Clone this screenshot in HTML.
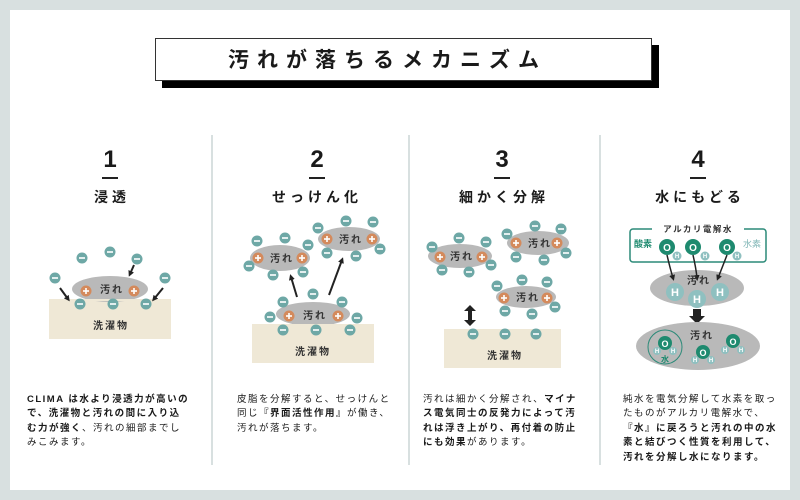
<!DOCTYPE html>
<html><head><meta charset="utf-8"><style>
body{margin:0;width:800px;height:500px;background:#d8e0e0;position:relative;overflow:hidden;font-family:"Liberation Sans","Noto Sans CJK JP",sans-serif;color:#1a1a1a}
.panel{position:absolute;left:10px;top:10px;width:780px;height:480px;background:#fff}
.t{position:absolute;white-space:nowrap}
.num{font-size:24px;font-weight:bold;transform:translateX(-50%);top:146px}
.ul{position:absolute;height:2px;width:16px;background:#222;top:177px}
.h{font-size:14px;font-weight:bold;letter-spacing:4px;transform:translateX(-50%);top:187px}
.txt{font-size:9.5px;line-height:14.4px;letter-spacing:1.5px;top:393px}
.txt b{font-weight:bold}
.div{position:absolute;width:2px;background:#d8e0e0;top:135px;height:330px}
</style></head><body>
<div class="panel"></div>
<div style="position:absolute;left:162px;top:45px;width:497px;height:43px;background:#000"></div>
<div style="position:absolute;left:155px;top:38px;width:495px;height:41px;background:#fff;border:1px solid #333"></div>
<div class="t" style="left:228px;top:44px;font-size:21px;font-weight:bold;letter-spacing:8px">汚れが落ちるメカニズム</div>

<div class="div" style="left:211px"></div>
<div class="div" style="left:408px"></div>
<div class="div" style="left:599px"></div>

<div class="t num" style="left:110px">1</div><div class="ul" style="left:102px"></div><div class="t h" style="left:112px">浸透</div>
<div class="t num" style="left:317px">2</div><div class="ul" style="left:309px"></div><div class="t h" style="left:317px">せっけん化</div>
<div class="t num" style="left:502px">3</div><div class="ul" style="left:494px"></div><div class="t h" style="left:504px">細かく分解</div>
<div class="t num" style="left:698px">4</div><div class="ul" style="left:690px"></div><div class="t h" style="left:700px">水にもどる</div>

<svg width="800" height="500" style="position:absolute;left:0;top:0" font-family="Liberation Sans,Noto Sans CJK JP,sans-serif">
<defs>
<g id="m"><circle r="5.5" fill="#6ea8a6"/><rect x="-3" y="-0.8" width="6" height="1.6" fill="#fff"/></g>
<g id="p"><circle r="5.5" fill="#d48a5c"/><rect x="-3" y="-0.8" width="6" height="1.6" fill="#fff"/><rect x="-0.8" y="-3" width="1.6" height="6" fill="#fff"/></g>
<marker id="a" markerWidth="6" markerHeight="6" refX="3" refY="3" orient="auto" markerUnits="userSpaceOnUse"><path d="M0,0L6,3L0,6z" fill="#222"/></marker>
</defs>
<g font-size="10" font-weight="bold" fill="#333" text-anchor="middle" letter-spacing="2">
<rect x="49" y="299" width="122" height="40" fill="#efe8d6"/>
<text x="111" y="329">洗濯物</text>
<ellipse cx="110" cy="289" rx="38" ry="13" fill="#b9b9b9"/>
<rect x="49" y="299" width="122" height="2" fill="#efe8d6"/>
<text x="112" y="293">汚れ</text>
<use href="#p" x="86" y="291"/><use href="#p" x="134" y="291"/>
<use href="#m" x="82" y="258"/><use href="#m" x="110" y="252"/><use href="#m" x="137" y="259"/><use href="#m" x="55" y="278"/><use href="#m" x="165" y="278"/><use href="#m" x="80" y="304"/><use href="#m" x="113" y="304"/><use href="#m" x="146" y="304"/>
<g stroke="#222" stroke-width="2" marker-end="url(#a)"><line x1="60" y1="288" x2="68" y2="299"/><line x1="134" y1="265" x2="130" y2="274"/><line x1="163" y1="288" x2="154" y2="299"/></g>
<rect x="252" y="324" width="122" height="39" fill="#efe8d6"/>
<text x="313" y="355">洗濯物</text>
<ellipse cx="313" cy="314" rx="37" ry="12" fill="#b9b9b9"/>
<rect x="252" y="324" width="122" height="2" fill="#efe8d6"/>
<text x="315" y="319">汚れ</text>
<use href="#p" x="289" y="316"/><use href="#p" x="338" y="316"/>
<use href="#m" x="270" y="317"/><use href="#m" x="283" y="302"/><use href="#m" x="313" y="294"/><use href="#m" x="342" y="302"/><use href="#m" x="357" y="318"/><use href="#m" x="283" y="330"/><use href="#m" x="316" y="330"/><use href="#m" x="350" y="330"/>
<ellipse cx="280" cy="258" rx="30" ry="13" fill="#b9b9b9"/>
<text x="282" y="262">汚れ</text><use href="#p" x="258" y="258"/><use href="#p" x="302" y="258"/>
<use href="#m" x="257" y="241"/><use href="#m" x="285" y="238"/><use href="#m" x="308" y="245"/><use href="#m" x="249" y="266"/><use href="#m" x="273" y="275"/><use href="#m" x="303" y="272"/>
<ellipse cx="349" cy="239" rx="31" ry="12" fill="#b9b9b9"/>
<text x="351" y="243">汚れ</text><use href="#p" x="327" y="239"/><use href="#p" x="372" y="239"/>
<use href="#m" x="318" y="228"/><use href="#m" x="346" y="221"/><use href="#m" x="373" y="222"/><use href="#m" x="327" y="253"/><use href="#m" x="356" y="256"/><use href="#m" x="380" y="249"/>
<g stroke="#222" stroke-width="2" marker-end="url(#a)"><line x1="297" y1="297" x2="291" y2="277"/><line x1="329" y1="295" x2="342" y2="260"/></g>
<rect x="444" y="329" width="117" height="39" fill="#efe8d6"/>
<text x="505" y="359">洗濯物</text>
<use href="#m" x="473" y="334"/><use href="#m" x="505" y="334"/><use href="#m" x="536" y="334"/>
<ellipse cx="460" cy="256" rx="32" ry="12" fill="#b9b9b9"/>
<text x="462" y="260">汚れ</text><use href="#p" x="440" y="257"/><use href="#p" x="482" y="257"/>
<use href="#m" x="432" y="247"/><use href="#m" x="459" y="238"/><use href="#m" x="486" y="242"/><use href="#m" x="442" y="270"/><use href="#m" x="469" y="272"/><use href="#m" x="491" y="265"/>
<ellipse cx="538" cy="243" rx="31" ry="12" fill="#b9b9b9"/>
<text x="540" y="247">汚れ</text><use href="#p" x="516" y="243"/><use href="#p" x="557" y="243"/>
<use href="#m" x="507" y="234"/><use href="#m" x="535" y="226"/><use href="#m" x="561" y="229"/><use href="#m" x="516" y="257"/><use href="#m" x="544" y="260"/><use href="#m" x="566" y="253"/>
<ellipse cx="526" cy="297" rx="30" ry="11" fill="#b9b9b9"/>
<text x="528" y="301">汚れ</text><use href="#p" x="504" y="298"/><use href="#p" x="547" y="298"/>
<use href="#m" x="497" y="286"/><use href="#m" x="522" y="280"/><use href="#m" x="547" y="282"/><use href="#m" x="505" y="311"/><use href="#m" x="532" y="314"/><use href="#m" x="555" y="307"/>
<path d="M470,305L476,311L472,311L472,320L476,320L470,326L464,320L468,320L468,311L464,311z" fill="#222"/>
<rect x="630" y="229" width="136" height="33" rx="3" fill="none" stroke="#2b8a78" stroke-width="1.5"/>
<rect x="652" y="223" width="92" height="12" fill="#fff"/>
<text x="698" y="232" font-size="8.5" letter-spacing="1.5">アルカリ電解水</text>
<text x="643" y="247" font-size="9" fill="#1e8a6f" letter-spacing="0">酸素</text>
<text x="752" y="247" font-size="9" fill="#7fb5b5" font-weight="normal" letter-spacing="0">水素</text>
<g font-size="10" fill="#fff" letter-spacing="0">
<circle cx="667" cy="247" r="8" fill="#1e8a6f"/><text x="667" y="251">O</text>
<circle cx="693" cy="247" r="8" fill="#1e8a6f"/><text x="693" y="251">O</text>
<circle cx="727" cy="247" r="8" fill="#1e8a6f"/><text x="727" y="251">O</text>
</g>
<g font-size="6" fill="#fff" letter-spacing="0">
<circle cx="677" cy="256" r="4.5" fill="#8fc0c0"/><text x="677" y="258">H</text>
<circle cx="705" cy="256" r="4.5" fill="#8fc0c0"/><text x="705" y="258">H</text>
<circle cx="737" cy="256" r="4.5" fill="#8fc0c0"/><text x="737" y="258">H</text>
</g>
<ellipse cx="697" cy="288" rx="47" ry="18" fill="#b9b9b9"/>
<g stroke="#222" stroke-width="1.5" marker-end="url(#a)" fill="none"><path d="M667,255Q670,268 673,278"/><path d="M693,255Q696,268 697,278"/><path d="M727,255Q722,268 718,278"/></g>
<text x="699" y="284">汚れ</text>
<g font-size="11" fill="#fff" letter-spacing="0">
<circle cx="675" cy="292" r="9" fill="#8fc0c0"/><text x="675" y="296">H</text>
<circle cx="697" cy="299" r="9" fill="#8fc0c0"/><text x="697" y="303">H</text>
<circle cx="720" cy="292" r="9" fill="#8fc0c0"/><text x="720" y="296">H</text>
</g>
<path d="M693,309h8v7h4l-8,8l-8,-8h4z" fill="#222"/>
<ellipse cx="698" cy="346" rx="62" ry="24" fill="#b9b9b9"/>
<text x="702" y="339">汚れ</text>
<circle cx="665" cy="347" r="17" fill="none" stroke="#2b8a78" stroke-width="1"/>
<g letter-spacing="0">
<circle cx="665" cy="343" r="7" fill="#1e8a6f"/><text x="665" y="347" font-size="9" fill="#fff">O</text>
<circle cx="703" cy="352" r="7" fill="#1e8a6f"/><text x="703" y="356" font-size="9" fill="#fff">O</text>
<circle cx="733" cy="341" r="7" fill="#1e8a6f"/><text x="733" y="345" font-size="9" fill="#fff">O</text>
<g font-size="6" fill="#fff">
<circle cx="657" cy="351" r="4" fill="#8fc0c0"/><text x="657" y="353">H</text>
<circle cx="673" cy="351" r="4" fill="#8fc0c0"/><text x="673" y="353">H</text>
<circle cx="695" cy="360" r="4" fill="#8fc0c0"/><text x="695" y="362">H</text>
<circle cx="711" cy="360" r="4" fill="#8fc0c0"/><text x="711" y="362">H</text>
<circle cx="725" cy="350" r="4" fill="#8fc0c0"/><text x="725" y="352">H</text>
<circle cx="741" cy="350" r="4" fill="#8fc0c0"/><text x="741" y="352">H</text>
</g>
<text x="665" y="362" font-size="8" fill="#1e8a6f">水</text>
</g>
</g>
</svg>

<div class="t txt" style="left:27px"><b>CLIMA は水より浸透力が高いの<br>で、洗濯物と汚れの間に入り込<br>む力が強く</b>、汚れの細部までし<br>みこみます。</div>
<div class="t txt" style="left:237px">皮脂を分解すると、せっけんと<br>同じ<b>『界面活性作用』</b>が働き、<br>汚れが落ちます。</div>
<div class="t txt" style="left:423px">汚れは細かく分解され、<b>マイナ<br>ス電気同士の反発力によって汚<br>れは浮き上がり、再付着の防止<br>にも効果</b>があります。</div>
<div class="t txt" style="left:623px">純水を電気分解して水素を取っ<br>たものがアルカリ電解水で、<br><b>『水』に戻ろうと汚れの中の水<br>素と結びつく性質を利用して、<br>汚れを分解し水になります。</b></div>
</body></html>
